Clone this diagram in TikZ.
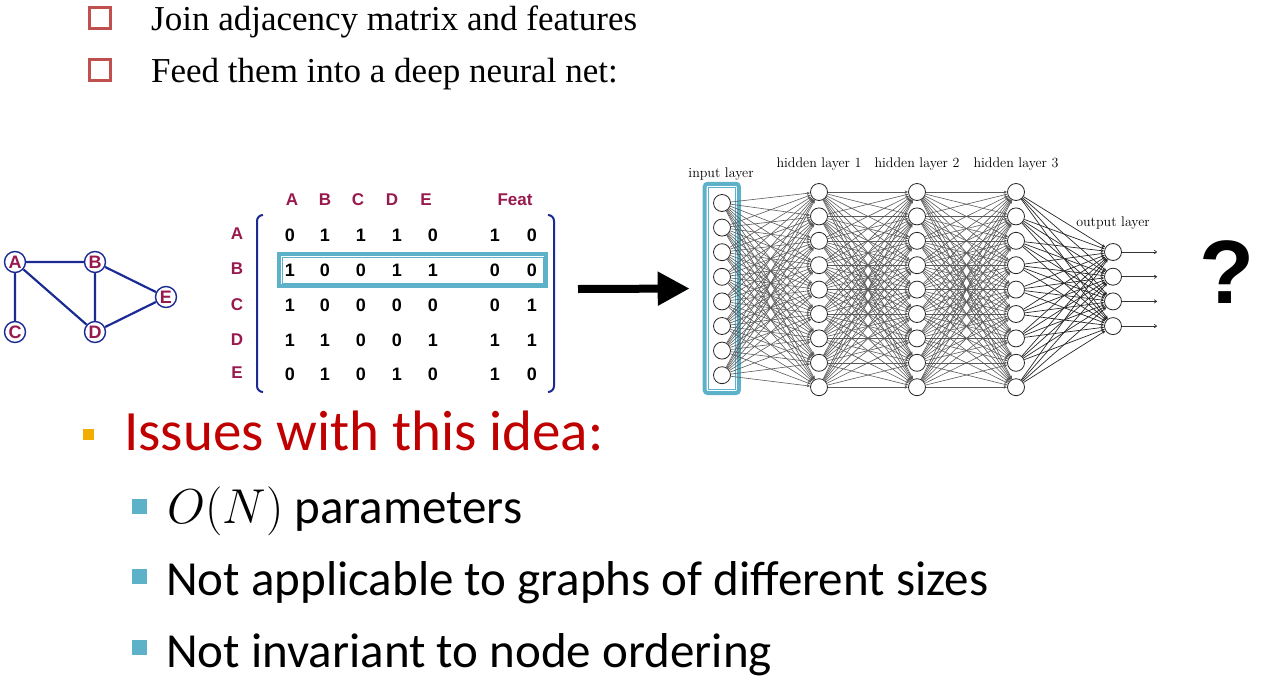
\RequirePackage{fix-cm}
\documentclass[tikz,border=0pt]{standalone}
\usepackage{fontspec}
\usepackage{tikz}
\usetikzlibrary{arrows.meta, positioning, calc}
\newfontfamily\serifslide{Liberation Serif}
\newfontfamily\arialslide{Liberation Sans}
\newfontfamily\calibrislide{Carlito}
\definecolor{gnavy}{HTML}{1C2B94}
\definecolor{gmaroon}{HTML}{98194E}
\definecolor{hlteal}{HTML}{5DB1C8}
\definecolor{boxred}{HTML}{C0504D}
\definecolor{issuered}{HTML}{C00000}
\definecolor{bulorange}{HTML}{F2AE00}

\begin{document}
\begin{tikzpicture}[x=1pt, y=-1pt,
    openbox/.style={rectangle, draw=boxred, line width=3.2pt, minimum size=21pt, inner sep=0pt},
    slidetext/.style={anchor=base west, inner sep=0pt, font=\serifslide\fontsize{35}{42}\selectfont},
    issuetext/.style={anchor=base west, inner sep=0pt, font=\calibrislide\fontsize{49}{58}\selectfont},
    subbullet/.style={rectangle, fill=hlteal, minimum size=15pt, inner sep=0pt},
    vertex/.style={circle, draw=gnavy, line width=1.4pt, fill=white, inner sep=0pt, minimum size=21pt, text=gmaroon, font=\arialslide\bfseries\fontsize{18}{18}\selectfont},
    gedge/.style={draw=gnavy, line width=2.2pt},
    mlabel/.style={text=gmaroon, inner sep=0pt, font=\arialslide\bfseries\fontsize{17}{17}\selectfont},
    entry/.style={inner sep=0pt, font=\arialslide\bfseries\fontsize{18}{18}\selectfont},
    bracket/.style={draw=gnavy, line width=2pt, rounded corners=6pt},
    hlband/.style={draw=hlteal, line width=4pt},
    hlthin/.style={draw=hlteal, line width=1.2pt},
    bigarrow/.style={draw=black, line width=8pt, -{Triangle[length=32pt, width=32pt]}},
    neuron/.style={circle, draw=black!85, line width=0.8pt, fill=white, inner sep=0pt, minimum size=17pt},
    synapse/.style={draw=black!65, line width=0.6pt, -{Stealth[length=3.5pt, width=3pt]}},
    outsyn/.style={draw=black!85, line width=0.7pt, -{Stealth[length=3.5pt, width=3pt]}},
    outarrow/.style={draw=black!80, line width=0.7pt, -{To[length=3pt, width=4pt]}},
    layerlab/.style={inner sep=0pt, font=\fontsize{14}{14}\selectfont}
]
\useasboundingbox (0,0) rectangle (1262,686);

\node[openbox] (sq1) at (100,18) {};
\node[openbox] (sq2) at (100,70) {};
\node[slidetext] (line1) at (151,30) {Join adjacency matrix and features};
\node[slidetext] (line2) at (151,82) {Feed them into a deep neural net:};

\node[vertex] (A) at (15,262) {A};
\node[vertex] (B) at (95,262) {B};
\node[vertex] (C) at (15,332) {C};
\node[vertex] (D) at (95,332) {D};
\node[vertex] (E) at (166,297) {E};
\draw[gedge] (A) -- (B) (A) -- (C) (A) -- (D) (B) -- (D) (B) -- (E) (D) -- (E);

\foreach \c/\x/\t in {1/292/A, 2/325/B, 3/358/C, 4/392/D, 5/426/E, 6/515/Feat}
  \node[mlabel] (col\c) at (\x,200) {\t};
\foreach \r/\y/\t in {1/234/A, 2/269/B, 3/305/C, 4/340/D, 5/373/E}
  \node[mlabel] (row\r) at (237,\y) {\t};
\foreach \r/\y/\vals in {1/235/{0,1,1,1,0,1,0}, 2/270/{1,0,0,1,1,0,0}, 3/305/{1,0,0,0,0,0,1}, 4/340/{1,1,0,0,1,1,1}, 5/374/{0,1,0,1,0,1,0}}
  \foreach \v [count=\c] in \vals {
    \pgfmathsetmacro{\mx}{{290,325,361,397,433,495,532}[\c-1]}
    \node[entry] (m\r\c) at (\mx,\y) {\v};
  }
\draw[bracket] (263,215) -| (257,392) -- (263,392);
\draw[bracket] (548,215) -| (554,392) -- (548,392);
\draw[hlband] (278.7,253.8) rectangle (546.3,286.3);
\draw[hlthin] (282.7,257.3) rectangle (543.3,283.3);

\node[draw=hlteal, line width=4pt, rounded corners=3pt, minimum width=34.2pt, minimum height=209.3pt, inner sep=0pt] (inbox) at (721.8,288.4) {};
\node[hlthin, minimum width=26.7pt, minimum height=201.7pt, inner sep=0pt] (inboxin) at (721.8,288.4) {};
\coordinate (arrowstart) at (578,289);
\draw[bigarrow, shorten >=13pt] (arrowstart) -- (inbox);

\foreach \i in {1,...,8}
  \node[neuron] (I\i) at (722,{203+24.6*(\i-1)}) {};
\foreach \i in {1,...,9} {
  \node[neuron] (Ha\i) at (819,{192+24.4*(\i-1)}) {};
  \node[neuron] (Hb\i) at (917,{192+24.4*(\i-1)}) {};
  \node[neuron] (Hc\i) at (1016,{192+24.4*(\i-1)}) {};
}
\foreach \i in {1,...,4}
  \node[neuron] (O\i) at (1113,{252+24.7*(\i-1)}) {};

\foreach \i in {1,...,8}
  \foreach \j in {1,...,9}
    \draw[synapse] (I\i) -- (Ha\j);
\foreach \i in {1,...,9}
  \foreach \j in {1,...,9} {
    \draw[synapse] (Ha\i) -- (Hb\j);
    \draw[synapse] (Hb\i) -- (Hc\j);
  }
\foreach \i in {1,...,9}
  \foreach \j in {1,...,4}
    \draw[outsyn] (Hc\i) -- (O\j);
\foreach \i in {1,...,4} {
  \coordinate (Y\i) at (1157,{252+24.7*(\i-1)});
  \draw[outarrow] (O\i) -- (Y\i);
}

\node[layerlab] (lin) at (721,174) {input layer};
\node[layerlab] (lh1) at (819,164) {hidden layer 1};
\node[layerlab] (lh2) at (917,164) {hidden layer 2};
\node[layerlab] (lh3) at (1016,164) {hidden layer 3};
\node[layerlab] (lout) at (1113,223) {output layer};

\node[inner sep=0pt, font=\arialslide\bfseries\fontsize{90}{90}\selectfont] (qmark) at (1227,272) {?};

\node[rectangle, fill=bulorange, minimum size=11pt, inner sep=0pt] (ob) at (88.5,434.5) {};
\node[issuetext, text=issuered, font=\calibrislide\fontsize{57}{68}\selectfont] (issues) at (124,450) {Issues with this idea:};
\node[subbullet] (bb1) at (139.5,506) {};
\node[subbullet] (bb2) at (139.5,576) {};
\node[subbullet] (bb3) at (139.5,647) {};
\node[issuetext] (iss1) at (167,523) {$O(N)$ parameters};
\node[issuetext] (iss2) at (166,595) {Not applicable to graphs of different sizes};
\node[issuetext] (iss3) at (166,667) {Not invariant to node ordering};
\end{tikzpicture}
\end{document}
